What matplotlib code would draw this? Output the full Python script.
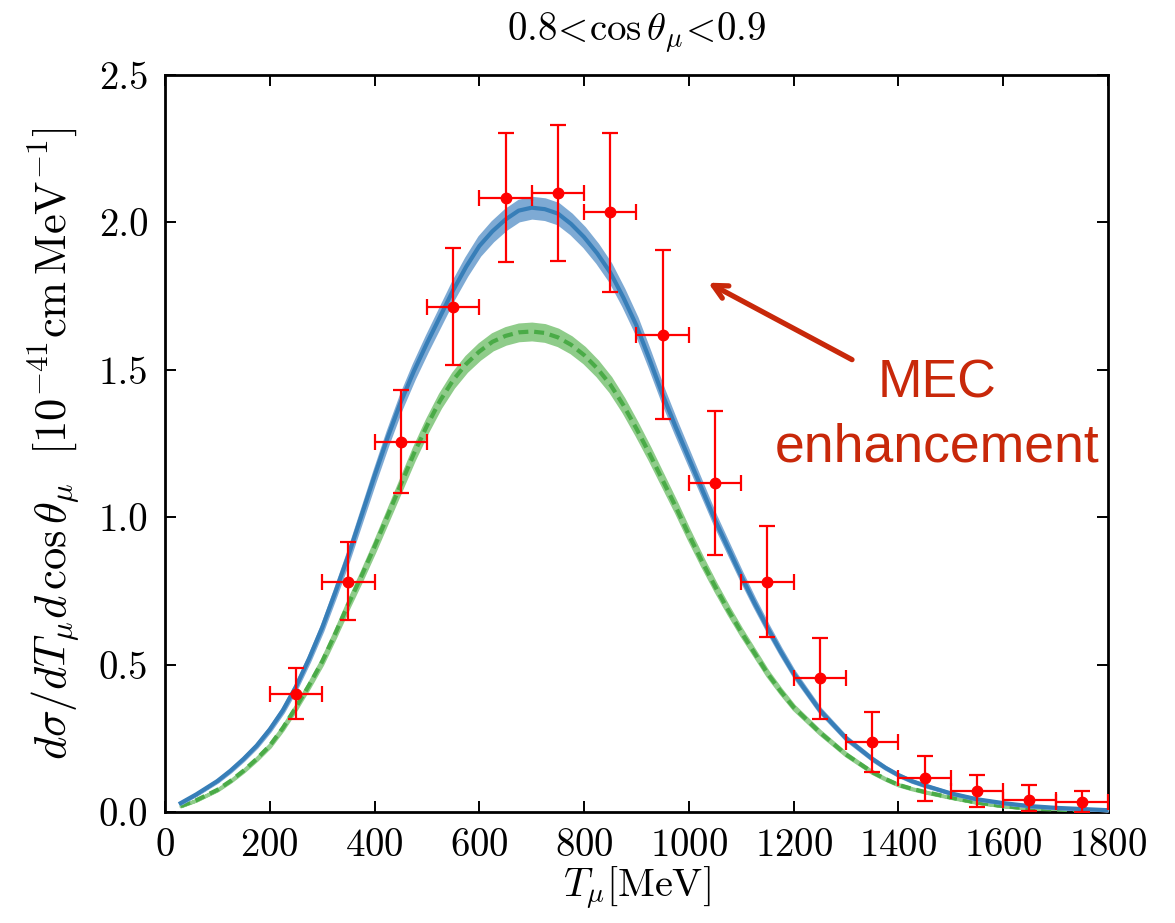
import numpy as np
import matplotlib.pyplot as plt

plt.rcParams['mathtext.fontset'] = 'cm'
plt.rcParams['font.family'] = 'serif'
plt.rcParams['font.serif'] = ['cmr10']
plt.rcParams['axes.formatter.use_mathtext'] = True

# model curves
t_curve = [30, 60, 100, 125, 150, 175, 200, 225, 250, 275, 300, 325, 350, 375, 400, 425,
           450, 475, 500, 525, 550, 575, 600, 625, 650, 675, 700, 725, 750, 775, 800, 825,
           850, 875, 900, 925, 950, 975, 1000, 1025, 1050, 1075, 1100, 1125, 1150,
           1175, 1200, 1250, 1300, 1350, 1375, 1400, 1425, 1450, 1500, 1550, 1600, 1650,
           1700, 1750, 1800]
blue = [0.03, 0.06, 0.105, 0.14, 0.18, 0.225, 0.28, 0.345, 0.425, 0.52, 0.625, 0.745,
        0.87, 1.005, 1.14, 1.27, 1.39, 1.495, 1.59, 1.68, 1.77, 1.85, 1.92, 1.97, 2.01,
        2.04, 2.05, 2.045, 2.03, 1.995, 1.95, 1.895, 1.83, 1.745, 1.65, 1.535, 1.415,
        1.305, 1.20, 1.095, 0.99, 0.895, 0.80, 0.71, 0.625, 0.545, 0.47, 0.345, 0.25,
        0.18, 0.15, 0.125, 0.105, 0.09, 0.063, 0.043, 0.03, 0.02, 0.014, 0.01, 0.006]
green = [0.02, 0.04, 0.075, 0.105, 0.14, 0.18, 0.225, 0.285, 0.355, 0.43, 0.51, 0.605,
         0.705, 0.80, 0.90, 1.005, 1.11, 1.215, 1.31, 1.395, 1.465, 1.52, 1.562, 1.595,
         1.615, 1.627, 1.63, 1.625, 1.61, 1.585, 1.55, 1.505, 1.45, 1.38, 1.30, 1.215,
         1.125, 1.035, 0.94, 0.85, 0.765, 0.685, 0.61, 0.54, 0.47, 0.41, 0.355, 0.27,
         0.195, 0.135, 0.112, 0.092, 0.079, 0.068, 0.049, 0.032, 0.02, 0.012, 0.008,
         0.005, 0.003]
band_rel = 0.016

# data points
t_data = [250, 350, 450, 550, 650, 750, 850, 950, 1050, 1150, 1250, 1350, 1450, 1550, 1650, 1750]
y_data = [0.40, 0.78, 1.256, 1.714, 2.084, 2.10, 2.035, 1.619, 1.115, 0.781, 0.456,
          0.236, 0.114, 0.071, 0.040, 0.034]
y_hi = [0.49, 0.915, 1.431, 1.912, 2.305, 2.33, 2.305, 1.905, 1.361, 0.970, 0.590,
        0.340, 0.191, 0.127, 0.090, 0.070]
y_lo = [0.315, 0.65, 1.081, 1.515, 1.865, 1.87, 1.765, 1.332, 0.873, 0.594, 0.315,
        0.135, 0.038, 0.016, 0.003, 0.0]
t_err = 50

fig = plt.figure(figsize=(11.75, 9.23), dpi=100)
ax = fig.add_axes([0.1404, 0.1203, 0.8026, 0.7984])

tc = np.array(t_curve)
b = np.array(blue)
g = np.array(green)
ax.fill_between(tc, g * (1 - band_rel), g * (1 + band_rel), color='#8fcc8a', lw=2.5,
                edgecolor='#8fcc8a', zorder=2)
ax.plot(tc, g, color='#4aab47', lw=3, dashes=(2.4, 1.4), zorder=3)
ax.fill_between(tc, b * (1 - band_rel), b * (1 + band_rel), color='#7eaad4', lw=2.5,
                edgecolor='#7eaad4', zorder=4)
ax.plot(tc, b, color='#377eb8', lw=3, zorder=5)

yd = np.array(y_data)
yerr = [yd - np.array(y_lo), np.array(y_hi) - yd]
ax.errorbar(t_data, yd, xerr=t_err, yerr=yerr, fmt='o', color='#ff0000', ms=7.5,
            elinewidth=1.6, capsize=5.5, capthick=1.6, zorder=6)

ax.annotate('', xy=(1032, 1.80), xytext=(1316, 1.53),
            arrowprops=dict(arrowstyle='->, head_length=1.0, head_width=0.5',
                            color='#c8280a', lw=3.8))
ax.text(1474, 1.455, 'MEC', color='#c8280a', fontsize=38.5, family='Liberation Sans',
        ha='center', va='center')
ax.text(1474, 1.235, 'enhancement', color='#c8280a', fontsize=38.5,
        family='Liberation Sans', ha='center', va='center')

ax.set_xlim(0, 1800)
ax.set_ylim(0, 2.5)
ax.set_xticks(np.arange(0, 1801, 200))
ax.set_yticks(np.arange(0, 2.51, 0.5))
ax.set_yticklabels(['%.1f' % v for v in np.arange(0, 2.51, 0.5)])
ax.tick_params(direction='in', top=True, right=True, length=8, width=1.4,
               labelsize=28, pad=12)
for s in ax.spines.values():
    s.set_linewidth(2)

ax.set_xlabel(r'$T_\mu[\mathrm{MeV}]$', fontsize=29, labelpad=0)
ax.set_ylabel(r'$d\sigma/dT_\mu d\,\cos\theta_\mu\ \ [10^{-41}\mathrm{cm\,MeV}^{-1}]$',
              fontsize=32, labelpad=12)
ax.set_title(r'$0.8\!<\!\cos\theta_\mu\!<\!0.9$', fontsize=28, pad=24)

fig.savefig('out.png', dpi=100)
